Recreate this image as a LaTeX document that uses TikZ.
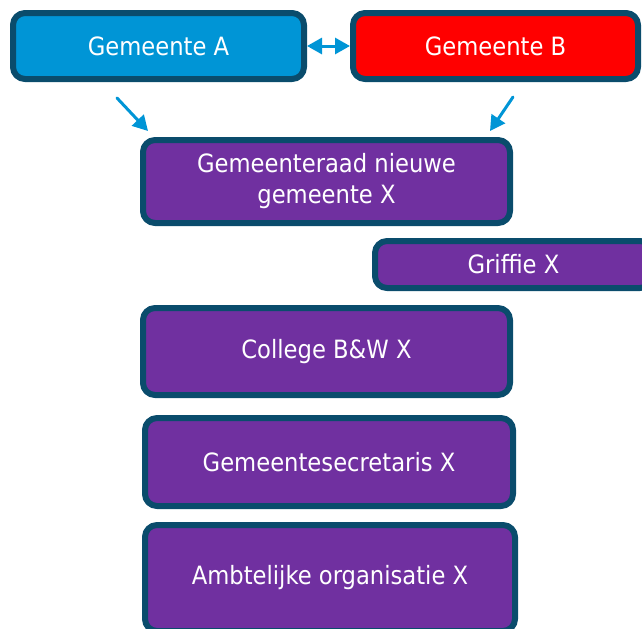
\documentclass[tikz,border=0pt]{standalone}
\usepackage{fontspec}
\setmainfont{DejaVu Sans Condensed}
\usetikzlibrary{arrows.meta}
\definecolor{rand}{RGB}{10,76,108}
\definecolor{blauw}{RGB}{0,149,214}
\definecolor{paars}{RGB}{112,48,160}
\begin{document}
\begin{tikzpicture}[x=0.5pt, y=-0.5pt, font=\fontsize{12.6}{15.5}\selectfont, line join=round, line cap=round, >={Triangle[length=7.5pt,width=8pt]}]
	\tikzset{
		blok/.style={draw=rand, line width=3pt, rounded corners=6pt, text=white, align=center, inner sep=0pt},
		pijl/.style={blauw, line width=1.5pt}
	}
	\useasboundingbox (0,0) rectangle (642,628);
	\clip (0,0) rectangle (642,628);
	% gemeenten
	\node[blok, fill=blauw, minimum width=145.5pt, minimum height=33pt] (gemA) at (158.5,46) {Gemeente A};
	\node[blok, fill=red, minimum width=142.5pt, minimum height=33pt] (gemB) at (495.5,46) {Gemeente B};
	% nieuwe gemeente
	\node[blok, fill=paars, minimum width=183.5pt, minimum height=41.5pt] (raad) at (326.5,181.5) {Gemeenteraad nieuwe\\gemeente X};
	\node[blok, fill=paars, minimum width=138.5pt, minimum height=23.5pt] (griffie) at (513.5,264.5) {Griffie X};
	\node[blok, fill=paars, minimum width=183.5pt, minimum height=43.5pt] (college) at (326.5,351.5) {College B\&W X};
	\node[blok, fill=paars, minimum width=184pt, minimum height=44pt] (secr) at (329,462) {Gemeentesecretaris X};
	\node[blok, fill=paars, minimum width=185pt, minimum height=53pt] (ambt) at (330,578) {Ambtelijke organisatie X};
	% pijlen
	\coordinate (vanA) at (117,98);
	\coordinate (naarA) at (148,131);
	\coordinate (vanB) at (513,97);
	\coordinate (naarB) at (490,131);
	\draw[pijl, <->] (gemA) -- (gemB);
	\draw[pijl, ->] (vanA) -- (naarA);
	\draw[pijl, ->] (vanB) -- (naarB);
\end{tikzpicture}
\end{document}
